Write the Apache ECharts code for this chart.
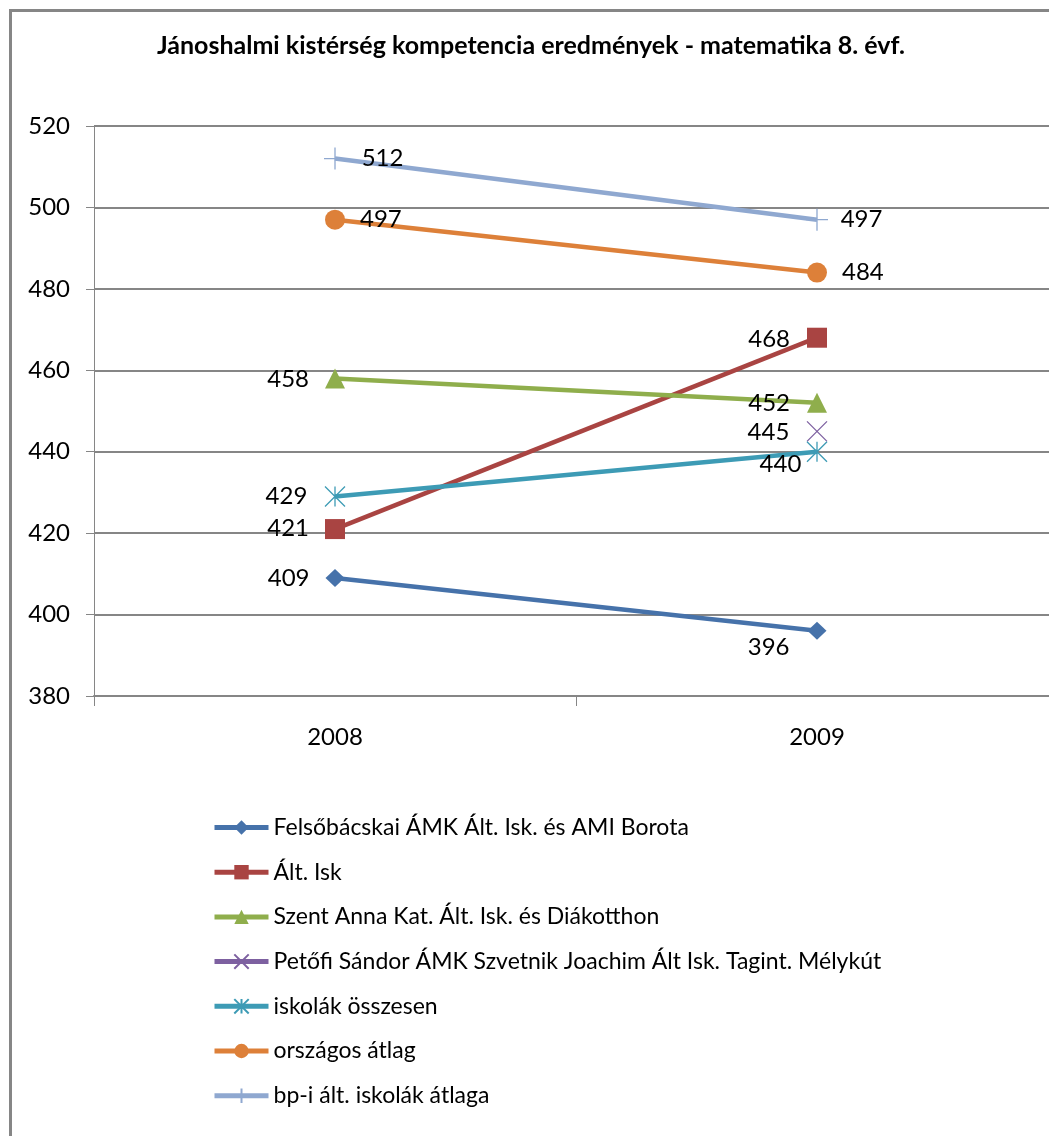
<!DOCTYPE html>
<html>
<head>
<meta charset="utf-8">
<script src="https://cdn.jsdelivr.net/npm/echarts@6/dist/echarts.min.js"></script>
<style>
html,body{margin:0;padding:0;background:#fff;overflow:hidden;}
#chart{width:1070px;height:1136px;}
</style>
</head>
<body>
<div id="chart"></div>
<script>
const titleText = 'Jánoshalmi kistérség kompetencia eredmények - matematika 8. évf.';
const categories = ['2008', '2009'];
const yTicks = [380, 400, 420, 440, 460, 480, 500, 520];

const seriesNames = [
  'Felsőbácskai ÁMK Ált. Isk. és AMI Borota',
  'Ált. Isk',
  'Szent Anna Kat. Ált. Isk. és Diákotthon',
  'Petőfi Sándor ÁMK Szvetnik Joachim Ált Isk. Tagint. Mélykút',
  'iskolák összesen',
  'országos átlag',
  'bp-i ált. iskolák átlaga'
];
const felsobacskai = [409, 396];
const altIsk = [421, 468];
const szentAnna = [458, 452];
const petofi = [null, 445];
const iskolakOsszesen = [429, 440];
const orszagosAtlag = [497, 484];
const bpAtlag = [512, 497];

const seriesValues = [felsobacskai, altIsk, szentAnna, petofi, iskolakOsszesen, orszagosAtlag, bpAtlag];

const colors = ['#4672AA', '#A94442', '#8FAE4C', '#7D60A0', '#3D9BB5', '#DD8039', '#8FA8D0'];

const FONT = 'Lato, "Open Sans", sans-serif';
const crossPath = 'path://M0,0L10,10M10,0L0,10';
const starPath = 'path://M0,0L10,10M10,0L0,10M5,0L5,10';
const plusPath = 'path://M0,5L10,5M5,0L5,10';

const symbolCfg = [
  {symbol: 'diamond', size: [19, 18], stroke: false},
  {symbol: 'rect', size: 20, stroke: false},
  {symbol: 'triangle', size: 20, stroke: false},
  {symbol: crossPath, size: 20, stroke: true},
  {symbol: starPath, size: 20, stroke: true},
  {symbol: 'circle', size: 20, stroke: false},
  {symbol: plusPath, size: 22, stroke: true}
];

// label placement per series per point: [position, distance, offsetX, offsetY]
const labelPlace = [
  [['left', 16, 0, 0], ['left', 18, 0, 16]],
  [['left', 16, 0, -1], ['left', 17, 0, 2]],
  [['left', 16, 0, 1], ['left', 17, 0, 0]],
  [null, ['left', 17, 0, 1]],
  [['left', 17, 0, 0], ['left', 5, 0, 13]],
  [['right', 15, 0, 0], ['right', 15, 0, 0]],
  [['right', 15, 0, 0], ['right', 12, 0, 0]]
];

const series = seriesValues.map((vals, i) => {
  const sc = symbolCfg[i];
  return {
    name: seriesNames[i],
    type: 'line',
    symbol: sc.symbol,
    symbolSize: sc.size,
    showAllSymbol: true,
    connectNulls: false,
    lineStyle: {color: colors[i], width: 4.5},
    itemStyle: sc.stroke
      ? {color: 'rgba(255,255,255,0)', borderColor: colors[i], borderWidth: 1.3}
      : {color: colors[i], borderWidth: 0},
    emphasis: {disabled: true},
    animation: false,
    data: vals.map((v, j) => {
      const lp = labelPlace[i][j];
      if (v === null || !lp) return v;
      return {
        value: v,
        label: {
          show: true,
          position: lp[0],
          distance: lp[1],
          offset: [lp[2], lp[3]],
          color: '#000',
          fontSize: 24,
          fontFamily: FONT,
          formatter: '{c}'
        }
      };
    })
  };
});

const chart = echarts.init(document.getElementById('chart'), null, {renderer: 'canvas'});
chart.setOption({
  animation: false,
  backgroundColor: '#fff',
  color: colors,
  graphic: [{
    type: 'rect',
    left: 8, top: 8,
    shape: {x: 0, y: 0, width: 1200, height: 1300},
    style: {fill: 'none', stroke: '#868686', lineWidth: 3},
    silent: true,
    z: -10
  }],
  title: {
    text: titleText,
    left: 157,
    top: 33,
    padding: 0,
    textStyle: {fontFamily: FONT, fontWeight: 'bold', fontSize: 25, color: '#000'}
  },
  grid: {left: 94, top: 126, width: 964, height: 570, containLabel: false},
  xAxis: {
    type: 'category',
    data: categories,
    boundaryGap: true,
    axisLine: {show: true, lineStyle: {color: '#868686', width: 2}},
    axisTick: {show: true, length: 10, lineStyle: {color: '#868686', width: 1}},
    axisLabel: {margin: 29, fontSize: 24, fontFamily: FONT, color: '#000'},
    splitLine: {show: false}
  },
  yAxis: {
    type: 'value',
    min: yTicks[0],
    max: yTicks[yTicks.length - 1],
    interval: yTicks[1] - yTicks[0],
    axisLine: {show: true, lineStyle: {color: '#868686', width: 1}},
    axisTick: {show: true, length: 8, lineStyle: {color: '#868686', width: 1}},
    axisLabel: {margin: 24, fontSize: 24, fontFamily: FONT, color: '#000'},
    splitLine: {show: true, lineStyle: {color: '#868686', width: 2}}
  },
  legend: {
    orient: 'vertical',
    left: 212,
    top: 816,
    padding: 0,
    itemWidth: 54,
    itemHeight: 18,
    itemGap: 21.7,
    data: seriesNames,
    lineStyle: {width: 5},
    textStyle: {fontFamily: FONT, fontSize: 23, color: '#000', lineHeight: 23},
    selectedMode: false
  },
  series: series
});
</script>
</body>
</html>
